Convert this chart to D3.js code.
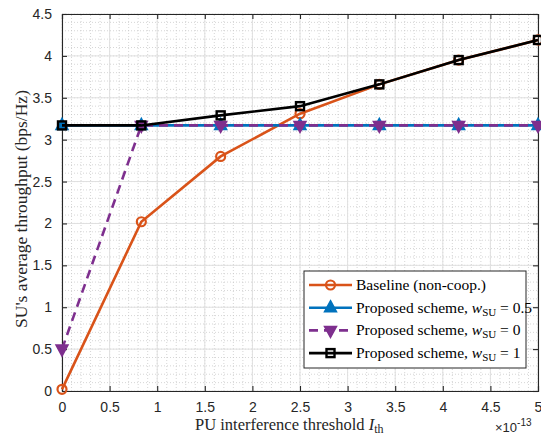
<!DOCTYPE html>
<html>
<head>
<meta charset="utf-8">
<script src="https://cdn.jsdelivr.net/npm/d3@7"></script>
<style>
body { margin: 0; background: #fff; }
</style>
</head>
<body>
<script>
// data (x in units of 1e-13)
var xVals = [0, 5/6, 10/6, 15/6, 20/6, 25/6, 5]
var baseline = [0.02, 2.02, 2.80, 3.31, 3.66, 3.95, 4.19]
var wHalf = [3.17, 3.17, 3.17, 3.17, 3.17, 3.17, 3.17]
var wZero = [0.50, 3.17, 3.17, 3.17, 3.17, 3.17, 3.17]
var wOne = [3.17, 3.17, 3.29, 3.40, 3.66, 3.95, 4.19]
var xTicks = [0, 0.5, 1, 1.5, 2, 2.5, 3, 3.5, 4, 4.5, 5]
var yTicks = [0, 0.5, 1, 1.5, 2, 2.5, 3, 3.5, 4, 4.5]

var W = 541, H = 441
var m = {left: 62, right: 3, top: 14, bottom: 50}
var SANS = "Liberation Sans, Arial, sans-serif"
var SERIF = "Liberation Serif, Times New Roman, serif"

var svg = d3.select("body").append("svg")
	.attr("width", W).attr("height", H)

var x = d3.scaleLinear().domain([0, 5]).range([m.left, W - m.right])
var y = d3.scaleLinear().domain([0, 4.5]).range([H - m.bottom, m.top])

var g = svg.append("g")

// minor grid (dotted)
d3.range(0, 5.001, 0.1).forEach(function(v) {
	g.append("line").attr("x1", x(v)).attr("x2", x(v)).attr("y1", y(0)).attr("y2", y(4.5))
		.attr("stroke", "#c4c4c4").attr("stroke-width", 0.7).attr("stroke-dasharray", "1,2")
})
d3.range(0, 4.501, 0.1).forEach(function(v) {
	g.append("line").attr("x1", x(0)).attr("x2", x(5)).attr("y1", y(v)).attr("y2", y(v))
		.attr("stroke", "#c4c4c4").attr("stroke-width", 0.7).attr("stroke-dasharray", "1,2")
})
// major grid
xTicks.forEach(function(v) {
	g.append("line").attr("x1", x(v)).attr("x2", x(v)).attr("y1", y(0)).attr("y2", y(4.5))
		.attr("stroke", "#e0e0e0").attr("stroke-width", 1)
})
yTicks.forEach(function(v) {
	g.append("line").attr("x1", x(0)).attr("x2", x(5)).attr("y1", y(v)).attr("y2", y(v))
		.attr("stroke", "#e0e0e0").attr("stroke-width", 1)
})

// axes
var axB = d3.axisBottom(x).tickValues(xTicks).tickSize(-5).tickPadding(11).tickFormat(d3.format("~g"))
var axT = d3.axisTop(x).tickValues(xTicks).tickSize(-5).tickFormat("")
var axL = d3.axisLeft(y).tickValues(yTicks).tickSize(-5).tickPadding(10).tickFormat(d3.format("~g"))
var axR = d3.axisRight(y).tickValues(yTicks).tickSize(-5).tickFormat("")

function styleAxis(sel) {
	sel.select(".domain").attr("stroke", "#262626").attr("stroke-width", 1.1)
	sel.selectAll(".tick line").attr("stroke", "#262626").attr("stroke-width", 1.1)
	sel.selectAll(".tick text").attr("font-family", SANS).attr("font-size", "14px").attr("fill", "#262626")
}
svg.append("g").attr("transform", "translate(0," + y(0) + ")").call(axB).call(styleAxis)
svg.append("g").attr("transform", "translate(0," + y(4.5) + ")").call(axT).call(styleAxis)
svg.append("g").attr("transform", "translate(" + x(0) + ",0)").call(axL).call(styleAxis)
svg.append("g").attr("transform", "translate(" + x(5) + ",0)").call(axR).call(styleAxis)

// series
var series = [
	{name: "Baseline (non-coop.)", vals: baseline, color: "#D95319", marker: "circle", dash: null},
	{name: "w05", vals: wHalf, color: "#0072BD", marker: "triUp", dash: null, w: "0.5"},
	{name: "w0", vals: wZero, color: "#7E2F8E", marker: "triDown", dash: "9,6", w: "0"},
	{name: "w1", vals: wOne, color: "#000000", marker: "square", dash: null, w: "1"}
]

var line = d3.line().x(function(d) { return x(d[0]) }).y(function(d) { return y(d[1]) })

function drawMarker(sel, type, color, cx, cy) {
	if (type == "circle") {
		sel.append("circle").attr("cx", cx).attr("cy", cy).attr("r", 4.5)
			.attr("fill", "none").attr("stroke", color).attr("stroke-width", 2.2)
	} else if (type == "square") {
		sel.append("rect").attr("x", cx - 4).attr("y", cy - 4).attr("width", 8).attr("height", 8)
			.attr("fill", "none").attr("stroke", color).attr("stroke-width", 2.4)
	} else if (type == "triUp") {
		sel.append("path").attr("d", "M" + cx + "," + (cy - 7) + "L" + (cx + 6) + "," + (cy + 4) + "L" + (cx - 6) + "," + (cy + 4) + "Z")
			.attr("fill", color).attr("stroke", color).attr("stroke-width", 1.5)
	} else {
		sel.append("path").attr("d", "M" + cx + "," + (cy + 7) + "L" + (cx + 6) + "," + (cy - 4) + "L" + (cx - 6) + "," + (cy - 4) + "Z")
			.attr("fill", color).attr("stroke", color).attr("stroke-width", 1.5)
	}
}

series.forEach(function(s) {
	var pts = xVals.map(function(v, i) { return [v, s.vals[i]] })
	var sg = svg.append("g")
	sg.append("path").attr("d", line(pts)).attr("fill", "none")
		.attr("stroke", s.color).attr("stroke-width", 2.6)
		.attr("stroke-dasharray", s.dash)
	pts.forEach(function(p) { drawMarker(sg, s.marker, s.color, x(p[0]), y(p[1])) })
})

// legend
var lg = svg.append("g").attr("transform", "translate(304,271)")
lg.append("rect").attr("width", 222).attr("height", 97).attr("fill", "#fff")
	.attr("stroke", "#262626").attr("stroke-width", 1)
series.forEach(function(s, i) {
	var ly = 14 + i * 22.7
	lg.append("line").attr("x1", 5).attr("x2", 48).attr("y1", ly).attr("y2", ly)
		.attr("stroke", s.color).attr("stroke-width", 2.6).attr("stroke-dasharray", s.dash)
	drawMarker(lg, s.marker, s.color, 26.5, ly)
	var t = lg.append("text").attr("x", 52).attr("y", ly + 5)
		.attr("font-family", SERIF).attr("font-size", "15.5px").attr("fill", "#000")
	if (i == 0) {
		t.text(s.name)
	} else {
		t.append("tspan").text("Proposed scheme, ")
		t.append("tspan").attr("font-style", "italic").text("w")
		t.append("tspan").attr("font-size", "11px").attr("dy", 3).text("SU")
		t.append("tspan").attr("dy", -3).text(" = " + s.w)
	}
})

// axis labels
var xl = svg.append("text").attr("x", 195).attr("y", 430)
	.attr("font-family", SERIF).attr("font-size", "16.5px").attr("fill", "#262626")
xl.append("tspan").text("PU interference threshold ")
xl.append("tspan").attr("font-style", "italic").text("I")
xl.append("tspan").attr("font-size", "12px").attr("dy", 3).text("th")

svg.append("text")
	.attr("transform", "translate(27," + 209 + ") rotate(-90)")
	.attr("text-anchor", "middle").attr("font-family", SERIF).attr("font-size", "17.5px").attr("fill", "#262626")
	.text("SU's average throughput (bps/Hz)")

var ex = svg.append("text").attr("x", 495).attr("y", 432)
	.attr("font-family", SANS).attr("font-size", "13px").attr("fill", "#262626")
ex.append("tspan").text("\u00d710")
ex.append("tspan").attr("font-size", "10px").attr("dy", -6).text("-13")
</script>
</body>
</html>
